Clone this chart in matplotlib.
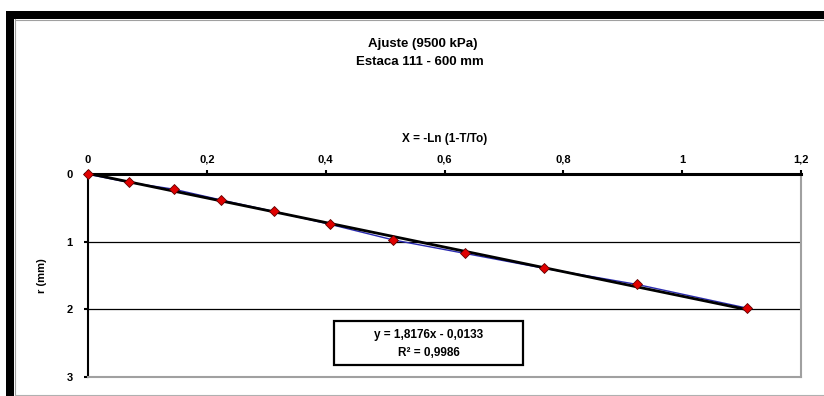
import numpy as np
import matplotlib
matplotlib.use("Agg")
from matplotlib import pyplot as plt
from matplotlib.lines import Line2D
from matplotlib.patches import Rectangle

# datos
x_vals = [0.0, 0.069, 0.144, 0.224, 0.313, 0.407, 0.513, 0.634, 0.767, 0.924, 1.109]
r_vals = [0.0, 0.12, 0.22, 0.38, 0.55, 0.74, 0.97, 1.17, 1.39, 1.63, 1.98]
slope, intercept = 1.8176, -0.0133
r2 = 0.9986
x_ticks = [0, 0.2, 0.4, 0.6, 0.8, 1.0, 1.2]
x_tick_labels = ["0", "0,2", "0,4", "0,6", "0,8", "1", "1,2"]
y_ticks = [0, 1, 2, 3]

plt.rcParams['font.family'] = ['Liberation Sans', 'DejaVu Sans']
plt.rcParams['font.weight'] = 'bold'

W, H = 824, 396
fig = plt.figure(figsize=(W / 100, H / 100), dpi=100)
fig.patch.set_facecolor("white")

# área del gráfico (en píxeles)
x0, x1, ytop, ybot = 88, 801, 174.3, 377
ax = fig.add_axes([x0 / W, 1 - ybot / H, (x1 - x0) / W, (ybot - ytop) / H])

# líneas de división
for yt in y_ticks[1:-1]:
    ax.axhline(yt, color="black", lw=0.9, zorder=1)

ax.plot(x_vals, r_vals, color="#2a2ab0", lw=1.0, zorder=2)
xt = np.array([x_vals[0], x_vals[-1]])
ax.plot(xt, slope * xt + intercept, color="black", lw=2.0, zorder=3)
ax.plot(x_vals, r_vals, ls="none", marker="D", ms=5, mfc="#e00000", mec="#600000", mew=0.6, zorder=4,
        clip_on=False)

ax.set_xlim(0, 1.2)
ax.set_ylim(3, 0)
ax.xaxis.tick_top()
ax.xaxis.set_label_position("top")
ax.set_xticks(x_ticks)
ax.set_xticklabels(x_tick_labels)
ax.set_yticks(y_ticks)
ax.tick_params(axis="both", labelsize=8, length=3, width=1.5, direction="out")
ax.tick_params(axis="x", pad=4)
ax.tick_params(axis="y", pad=8)
ax.set_xlabel("X = -Ln (1-T/To)", fontsize=8.5, fontweight="bold", labelpad=9)
ax.set_ylabel("r (mm)", fontsize=8, fontweight="bold", labelpad=14)

ax.spines["top"].set_linewidth(2.2)
ax.spines["left"].set_linewidth(1.5)
ax.spines["right"].set_color("#a0a0a0")
ax.spines["bottom"].set_color("#a0a0a0")
ax.spines["right"].set_linewidth(1.5)
ax.spines["bottom"].set_linewidth(1.5)

# cuadro de la ecuación
ax.add_patch(Rectangle((0.345, 0.059), 0.265, 0.217, transform=ax.transAxes,
                       fill=True, facecolor="white", edgecolor="black", lw=1.6, zorder=5))
ax.text(0.4776, 0.207, "y = 1,8176x - 0,0133", transform=ax.transAxes, ha="center", va="center",
        fontsize=8.5, fontweight="bold", zorder=6)
ax.text(0.4776, 0.118, "R² = " + f"{r2:.4f}".replace(".", ","), transform=ax.transAxes,
        ha="center", va="center", fontsize=8.5, fontweight="bold", zorder=6)

# títulos
fig.text(423 / W, 1 - 44 / H, "Ajuste (9500 kPa)", ha="center", va="center", fontsize=9.5, fontweight="bold")
fig.text(420 / W, 1 - 62 / H, "Estaca 111 - 600 mm", ha="center", va="center", fontsize=9.5, fontweight="bold")

# marco exterior
fig.add_artist(Rectangle((6 / W, 1 - 19 / H), (W - 6) / W, 8 / H, transform=fig.transFigure,
                         facecolor="black", edgecolor="none"))
fig.add_artist(Rectangle((6 / W, 0), 8 / W, (H - 11) / H, transform=fig.transFigure,
                         facecolor="black", edgecolor="none"))
fig.add_artist(Line2D([14.5 / W, 14.5 / W], [0, 1 - 19 / H], transform=fig.transFigure, color="#a0a0a0", lw=0.8))
fig.add_artist(Line2D([14.5 / W, 1], [1 - 19.5 / H, 1 - 19.5 / H], transform=fig.transFigure, color="#a0a0a0", lw=0.8))
fig.add_artist(Line2D([14.5 / W, 1], [1 - 395 / H, 1 - 395 / H], transform=fig.transFigure, color="#b0b0b0", lw=0.8))

plt.savefig("out.png", dpi=100)
